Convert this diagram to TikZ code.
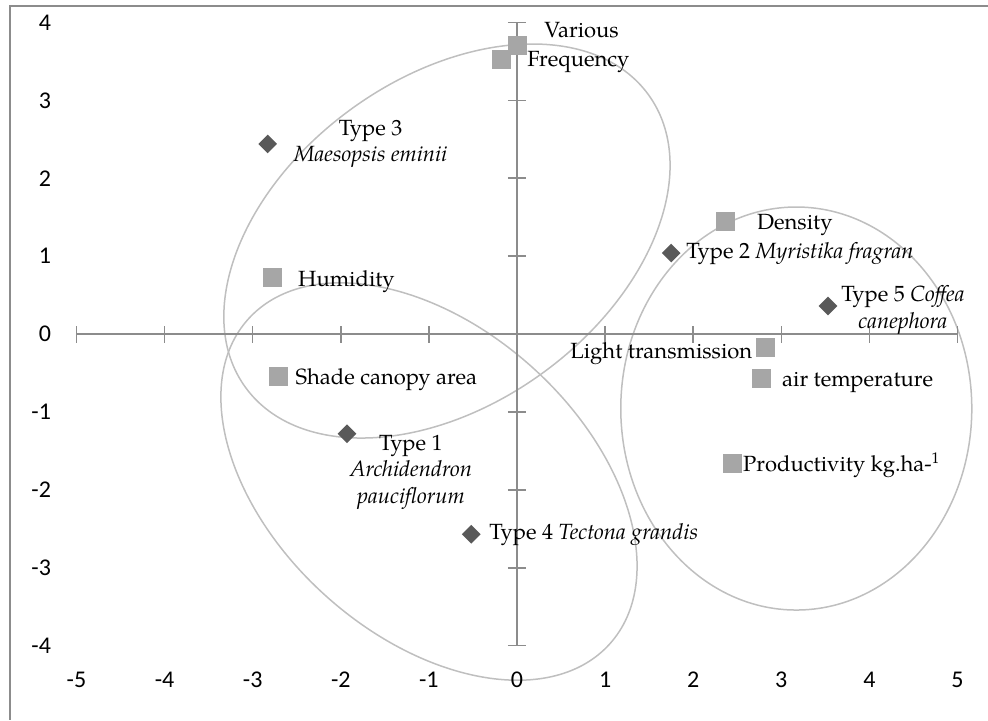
\documentclass[tikz,border=0pt]{standalone}
\usepackage{fontspec}
\setmainfont{TeX Gyre Pagella}
\newfontfamily\axisfont{Carlito}
\usetikzlibrary{positioning}
\usetikzlibrary{shapes.geometric}

\definecolor{framegray}{HTML}{8C8C8C}
\definecolor{axisgray}{HTML}{8C8C8C}
\definecolor{ovalgray}{HTML}{BFBFBF}
\definecolor{sqgray}{HTML}{A6A6A6}
\definecolor{dmgray}{HTML}{595959}
\tikzset{var/.style={rectangle, fill=sqgray, minimum size=9.5pt, inner sep=0pt},
typ/.style={diamond, fill=dmgray, minimum size=9.5pt, inner sep=0pt},
lbl/.style={inner sep=0pt, font=\fontsize{11}{13.25}\selectfont, text height=7.8pt, text depth=2.1pt},
lblblock/.style={inner sep=0pt, font=\fontsize{11}{13.25}\selectfont, align=center},
oval/.style={draw=ovalgray, line width=0.75pt},
axis/.style={draw=axisgray, line width=0.8pt},
ticklbl/.style={inner sep=0pt, font=\axisfont\fontsize{12}{14}\selectfont}}

\begin{document}
\begin{tikzpicture}[x=44.05pt, y=38.95pt]

				\useasboundingbox (-5.868,-4.955) rectangle (5.346,4.288);
				\draw[framegray, line width=0.75pt] (5.346,4.21) -- (-5.755,4.21) -- (-5.755,-4.955);

				% groups
				\coordinate (cA) at (-0.795,1.194);
				\coordinate (cB) at (-0.999,-1.893);
				\coordinate (cC) at (3.17,-0.956);
				\draw[oval, rotate around={36:(cA)}] (cA) ellipse [x radius=124.5pt, y radius=81.5pt];
				\draw[oval, rotate around={-41.9:(cB)}] (cB) ellipse [x radius=121.5pt, y radius=77pt];
				\draw[oval] (cC) ellipse [x radius=87.75pt, y radius=100.75pt];

				% axes
				\coordinate (xmin) at (-5,0);
				\coordinate (xmax) at (5,0);
				\coordinate (ymin) at (0,-4);
				\coordinate (ymax) at (0,4);
				\draw[axis] (xmin) -- (xmax);
				\draw[axis] (ymin) -- (ymax);
				\foreach \i in {-5,...,5}{
					\draw[axis] (\i,0) ++(0pt,-4.25pt) -- ++(0pt,8.5pt);
					\node[ticklbl] (xl\i) at (\i,-4.44) {\i};
				}
				\foreach \j in {-4,...,4}{
					\draw[axis] (0,\j) ++(-4.5pt,0pt) -- ++(9pt,0pt);
					\node[ticklbl, anchor=east] (yl\j) at (-5.285,\j) {\j};
				}

				% variables
				\node[var] (frequency) at (-0.18,3.53) {};
				\node[var] (various) at (0.011,3.71) {};
				\node[var] (density) at (2.37,1.45) {};
				\node[var] (humidity) at (-2.77,0.72) {};
				\node[var] (shade) at (-2.71,-0.55) {};
				\node[var] (light) at (2.82,-0.17) {};
				\node[var] (airtemp) at (2.78,-0.565) {};
				\node[var] (product) at (2.45,-1.66) {};

				% types
				\node[typ] (type1) at (-1.93,-1.28) {};
				\node[typ] (type2) at (1.75,1.04) {};
				\node[typ] (type3) at (-2.83,2.44) {};
				\node[typ] (type4) at (-0.52,-2.57) {};
				\node[typ] (type5) at (3.53,0.36) {};

				\node[lbl, right=8pt of various, yshift=6.75pt] (lvarious) {Various};
				\node[lbl, right=8pt of frequency, yshift=-0.75pt] (lfrequency) {Frequency};
				\node[lbl, right=10.5pt of density, yshift=-1.25pt] (ldensity) {Density};
				\node[lbl, right=7.5pt of humidity, yshift=-1.25pt] (lhumidity) {Humidity};
				\node[lbl, right=3.5pt of shade, yshift=-0.75pt] (lshade) {Shade canopy area};
				\node[lbl, left=1.5pt of light, yshift=-2.75pt] (llight) {Light transmission};
				\node[lbl, right=5pt of airtemp, yshift=-1.25pt] (lairtemp) {air temperature};
				\node[lbl, right=0pt of product, yshift=-1.25pt] (lproduct) {Productivity kg.ha-\textsuperscript{1}};

				\node[lblblock, below=-4.5pt of type1, xshift=32pt] (ltype1) {Type 1\\\textit{Archidendron}\\\textit{pauciflorum}};
				\node[lbl, right=2.5pt of type2] (ltype2) {Type 2 \textit{Myristika fragran}};
				\node[lblblock, right=8pt of type3] (ltype3) {Type 3\\\textit{Maesopsis eminii}};
				\node[lbl, right=4pt of type4] (ltype4) {Type 4 \textit{Tectona grandis}};
				\node[lblblock, right=1.5pt of type5, yshift=-2pt] (ltype5) {Type 5 \textit{Coffea}\\\textit{canephora}};
			\end{tikzpicture}
\end{document}
